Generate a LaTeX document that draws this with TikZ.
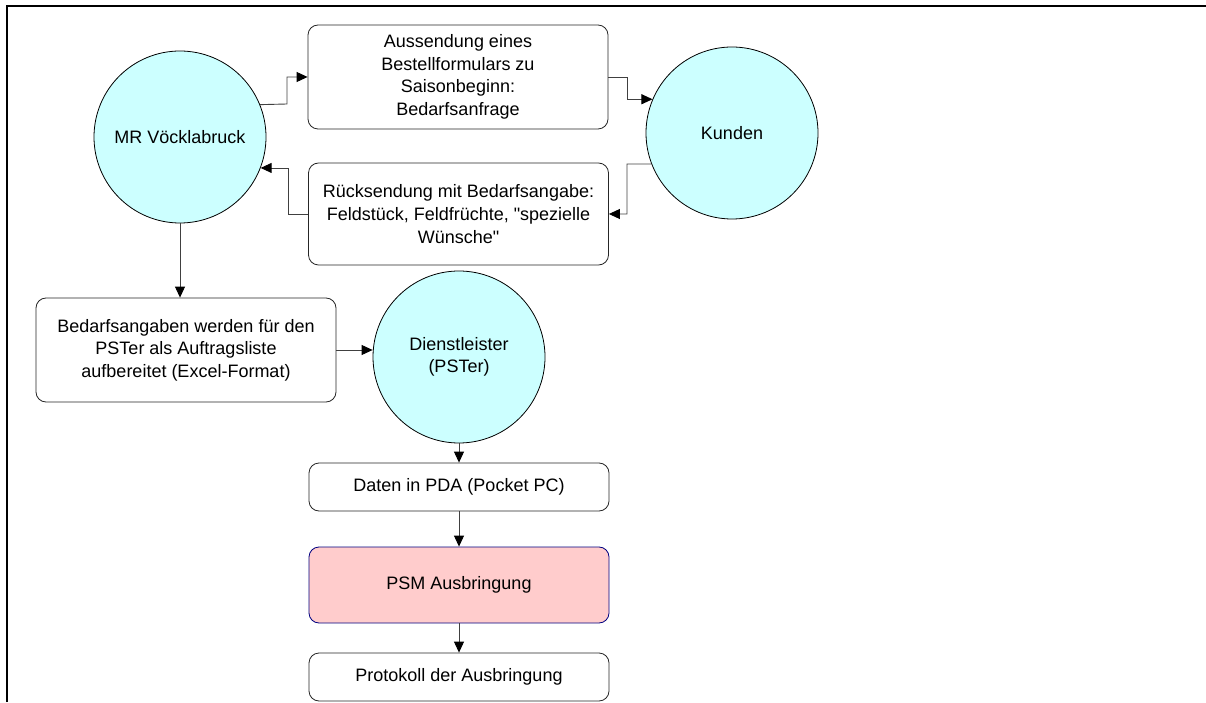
\documentclass[tikz,border=0pt]{standalone}
\usepackage{fontspec}
% no TeX ligatures, so that " stays a straight quote
\setmainfont{Liberation Sans}[Ligatures=TeXOff]
\usetikzlibrary{arrows.meta}
\definecolor{actorfill}{HTML}{CCFFFF}
\definecolor{taskfill}{HTML}{FFCCCC}
\definecolor{taskline}{HTML}{000080}
\begin{document}
\begin{tikzpicture}[x=1pt,y=1pt,
  every node/.style={font=\fontsize{18}{22.6}\selectfont, text=black},
  actor/.style={circle, draw=black, line width=0.8pt, fill=actorfill,
    minimum size=172pt, inner sep=0pt, align=center},
  stepbox/.style={rectangle, rounded corners=10pt, draw=black!85, line width=0.8pt,
    fill=white, minimum width=300pt, inner sep=0pt, align=center},
  flow/.style={draw=black!75, line width=0.9pt,
    -{Triangle[length=11pt,width=10pt,color=black]}}
]
\useasboundingbox (0,0) rectangle (1206,702);

% page frame (top and left edge)
\draw[line width=2pt] (7,0) -- (7,696) -- (1206,696);

% participants
\node[actor] (mr) at (180,565) {MR Vöcklabruck};
\node[actor] (kunden) at (732,569) {Kunden};
\node[actor] (dienst) at (459,345) {Dienstleister\\(PSTer)};

% process steps
\node[stepbox, minimum height=104pt] (b1) at (458,625)
  {Aussendung eines\\Bestellformulars zu\\Saisonbeginn:\\Bedarfsanfrage};
\node[stepbox, minimum height=102pt] (b2) at (458.5,488)
  {Rücksendung mit Bedarfsangabe:\\Feldstück, Feldfrüchte, "spezielle\\Wünsche"};
\node[stepbox, minimum height=104pt] (b3) at (186,352)
  {Bedarfsangaben werden für den\\PSTer als Auftragsliste\\aufbereitet (Excel-Format)};
\node[stepbox, minimum height=48pt] (b4) at (459,215) {Daten in PDA (Pocket PC)};
\node[stepbox, minimum height=76pt, fill=taskfill, draw=taskline] (b5) at (459,117)
  {PSM Ausbringung};
\node[stepbox, minimum height=48pt] (b6) at (459,25) {Protokoll der Ausbringung};

% connectors
\draw[flow] (mr.22.6) -- (287,598) |- (b1.west);
\draw[flow] (b1.east) -- (627,625) |- (kunden.157.4);
\draw[flow] (kunden.201.1) -- (627,538) |- (b2.east);
\draw[flow] (b2.west) -- (288,488) |- (mr.-21.1);
\draw[flow] (mr.south) -- (mr.south |- b3.north);
\draw[flow] (b3.east) -- (b3.east -| dienst.west);
\draw[flow] (dienst.south) -- (b4.north);
\draw[flow] (b4.south) -- (b5.north);
\draw[flow] (b5.south) -- (b6.north);
\end{tikzpicture}
\end{document}
